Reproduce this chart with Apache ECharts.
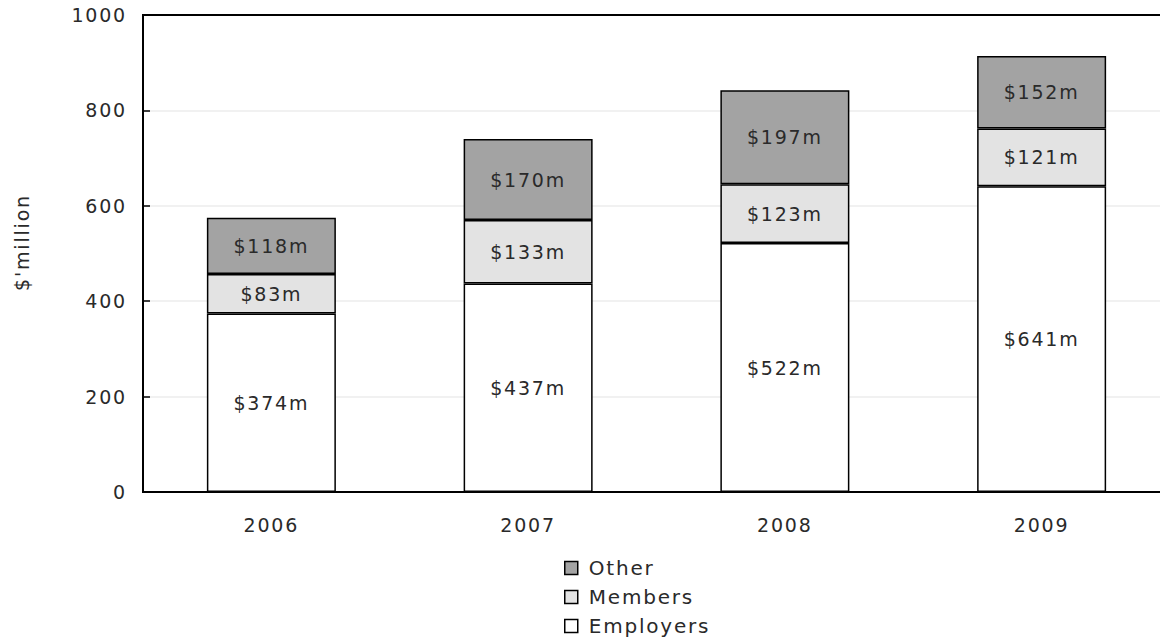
<!DOCTYPE html>
<html>
<head>
<meta charset="utf-8">
<title>Contributions by source</title>
<script src="https://cdn.jsdelivr.net/npm/echarts@6/dist/echarts.min.js"></script>
<style>
  html, body { margin: 0; padding: 0; background: #ffffff; }
  #chart { width: 1160px; height: 640px; }
  /* slightly tracked lettering for all chart text */
  #chart svg text { letter-spacing: 1.8px; }
</style>
</head>
<body>
<div id="chart"></div>
<script>
// Contributions by source, $ million
const years = ['2006', '2007', '2008', '2009'];
const employers = [374, 437, 522, 641];
const members = [83, 133, 123, 121];
const other = [118, 170, 197, 152];
const yTicks = [0, 200, 400, 600, 800, 1000];

const FONT = 'DejaVu Sans';
const TEXT = '#2a2a2a';
const SIZE = 19;

function barSeries(name, data, fill) {
  return {
    name: name,
    type: 'bar',
    stack: 'total',
    data: data,
    barWidth: 129,
    itemStyle: { color: fill, borderColor: '#000', borderWidth: 1.5 },
    label: {
      show: true,
      position: 'inside',
      formatter: p => '$' + p.value + 'm',
      color: TEXT,
      fontFamily: FONT,
      fontSize: SIZE
    },
    emphasis: { disabled: true }
  };
}

const chart = echarts.init(document.getElementById('chart'), null, { renderer: 'svg' });
chart.setOption({
  animation: false,
  backgroundColor: '#ffffff',
  textStyle: { fontFamily: FONT },
  // the plot frame runs past the right edge of the canvas
  grid: {
    left: 143, top: 15, width: 1027, height: 477,
    outerBoundsMode: 'none',
    show: true, borderColor: '#000', borderWidth: 2, backgroundColor: 'transparent'
  },
  legend: {
    orient: 'vertical',
    left: 559, top: 553, height: 90,
    itemWidth: 13, itemHeight: 13, itemGap: 9,
    icon: 'rect',
    selectedMode: false,
    data: ['Other', 'Members', 'Employers'],
    itemStyle: { borderColor: '#000', borderWidth: 1.5 },
    textStyle: { color: TEXT, fontFamily: FONT, fontSize: 20, padding: [0, 0, 0, 6] }
  },
  xAxis: {
    type: 'category',
    data: years,
    axisLine: { lineStyle: { color: '#000', width: 2 } },
    axisTick: { inside: true, length: 7, lineStyle: { color: '#000', width: 1.5 } },
    axisLabel: { color: TEXT, fontFamily: FONT, fontSize: SIZE, margin: 23 }
  },
  yAxis: {
    type: 'value',
    min: yTicks[0],
    max: yTicks[yTicks.length - 1],
    interval: yTicks[1] - yTicks[0],
    name: "$'million",
    nameLocation: 'middle',
    nameGap: 112,
    nameTextStyle: { color: TEXT, fontFamily: FONT, fontSize: SIZE, padding: [0, 0, 0, 22] },
    axisLine: { show: true, lineStyle: { color: '#000', width: 2 } },
    axisTick: { show: true, inside: true, length: 7, lineStyle: { color: '#000', width: 1.5 } },
    axisLabel: { color: TEXT, fontFamily: FONT, fontSize: SIZE, margin: 16, formatter: v => String(v) },
    splitLine: { showMinLine: false, showMaxLine: false, lineStyle: { color: '#ececec', width: 1.5 } }
  },
  series: [
    barSeries('Employers', employers, '#ffffff'),
    barSeries('Members', members, '#e3e3e3'),
    barSeries('Other', other, '#a3a3a3')
  ]
});
</script>
</body>
</html>
